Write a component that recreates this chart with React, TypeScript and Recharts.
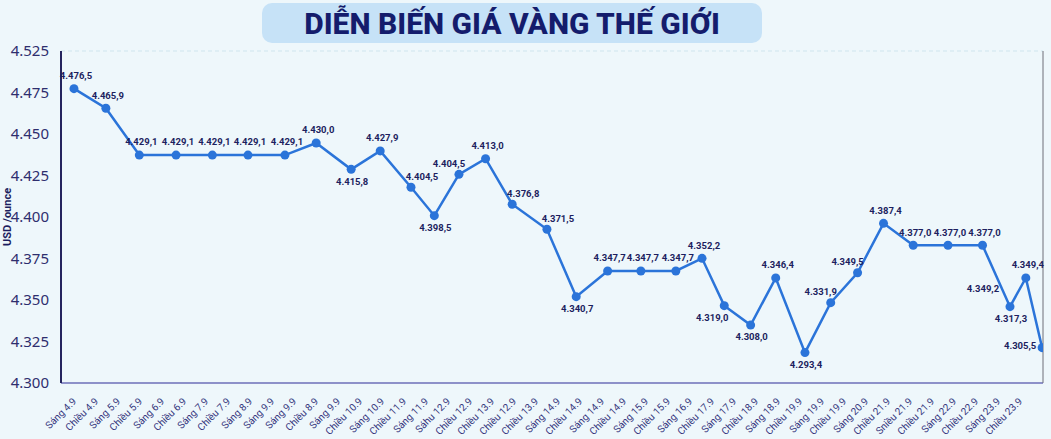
import React from 'react';
import { LineChart, Line, XAxis, YAxis, CartesianGrid, LabelList } from 'recharts';

// 44 time slots printed under the axis (as they appear in the picture)
const X_LABELS = [
  'Sáng 4.9', 'Chiều 4.9', 'Sáng 5.9', 'Chiều 5.9', 'Sáng 6.9', 'Chiều 6.9', 'Sáng 7.9', 'Chiều 7.9',
  'Sáng 8.9', 'Sáng 9.9', 'Sáng 9.9', 'Chiều 8.9', 'Sáng 9.9', 'Chiều 10.9', 'Sáng 10.9', 'Chiều 11.9',
  'Sáng 11.9', 'Sáhu 12.9', 'Chiều 12.9', 'Chiều 13.9', 'Chiều 12.9', 'Chiều 13.9', 'Sáng 14.9', 'Chiều 14.9',
  'Sáng 14.9', 'Chiều 14.9', 'Sáng 15.9', 'Chiều 15.9', 'Sáng 16.9', 'Chiều 17.9', 'Sáng 17.9', 'Chiều 18.9',
  'Sáng 18.9', 'Chiều 19.9', 'Sáng 19.9', 'Chiều 19.9', 'Sáng 20.9', 'Chiều 21.9', 'Sniều 21.9', 'Chiều 21.9',
  'Sáng 22.9', 'Chiều 22.9', 'Sáng 23.9', 'Chiều 23.9',
];

// where each point sits along the slot axis
const POINT_POS = [
  0, 1.45, 2.97, 4.64, 6.29, 7.91, 9.59, 11.01, 12.6, 13.92, 15.32, 16.38, 17.5, 18.71, 19.92, 21.5, 22.83,
  24.26, 25.77, 27.36, 28.55, 29.56, 30.76, 31.9, 33.23, 34.4, 35.62, 36.8, 38.15, 39.73, 41.3, 42.55, 43.27, 44.01,
];

// plotted price (USD/ounce, thousands)
const POINT_PRICE = [
  4.4773, 4.4655, 4.4373, 4.4373, 4.4373, 4.4373, 4.4373, 4.4446, 4.4287, 4.4398, 4.4179, 4.4008, 4.4257,
  4.4351, 4.4077, 4.3926, 4.352, 4.3675, 4.3675, 4.3675, 4.3751, 4.3466, 4.3349, 4.3633, 4.3183, 4.3484,
  4.3664, 4.3962, 4.383, 4.383, 4.383, 4.346, 4.3633, 4.3213,
];

// printed value labels
const POINT_TEXT = [
  '4.476,5', '4.465,9', '4.429,1', '4.429,1', '4.429,1', '4.429,1', '4.429,1', '4.430,0', '4.415,8',
  '4.427,9', '4.404,5', '4.398,5', '4.404,5', '4.413,0', '4.376,8', '4.371,5', '4.340,7', '4.347,7',
  '4.347,7', '4.347,7', '4.352,2', '4.319,0', '4.308,0', '4.346,4', '4.293,4', '4.331,9', '4.349,5',
  '4.387,4', '4.377,0', '4.377,0', '4.377,0', '4.317,3', '4.349,4', '4.305,5',
];

const EXTRA_LABEL_INDEX = 31;
const EXTRA_LABEL_TEXT = '4.349,2';

const Y_TICKS = [4.3, 4.325, 4.35, 4.375, 4.4, 4.425, 4.45, 4.475, 4.5];
const Y_TICK_LABELS = ['4.300', '4.325', '4.350', '4.375', '4.400', '4.425', '4.450', '4.475', '4.525'];

const data = POINT_POS.map((pos, i) => ({ pos, price: POINT_PRICE[i], text: POINT_TEXT[i] }));

// label side for each point
const LABEL_SIDE = [
  'top', 'top', 'top', 'top', 'top', 'top', 'top', 'top', 'bottom', 'top', 'topRight', 'bottom', 'topLeft',
  'top', 'topRight', 'topRight', 'bottom', 'top', 'top', 'top', 'top', 'bottomLeft', 'bottom', 'top', 'bottom',
  'topLeft', 'topLeft', 'top', 'top', 'top', 'top', 'bottom', 'top', 'left',
];

const SIDE_OFFSET: Record<string, [number, number]> = {
  top: [2, -13],
  bottom: [1, 12],
  topLeft: [-10, -11],
  topRight: [11, -11],
  bottomLeft: [-12, 12],
  left: [-22, -2],
  farTopLeft: [-27, -18],
};

const NAVY = '#1d1f5f';
const BLUE = '#2b74d9';

const labelText = (x: number, y: number, text: string, side: string) => {
  const [dx, dy] = SIDE_OFFSET[side];
  return (
    <text
      x={x + dx}
      y={y + dy}
      dy="0.35em"
      textAnchor="middle"
      fontSize={9.5}
      fontWeight={700}
      fill={NAVY}
      fontFamily="Roboto, sans-serif"
    >
      {text}
    </text>
  );
};

const renderValueLabel = (props: any) => {
  const { x, y, index, value } = props;
  return labelText(Number(x), Number(y), String(value), LABEL_SIDE[index] || 'top');
};

const renderExtraLabel = (props: any) => {
  const { x, y, index } = props;
  if (index !== EXTRA_LABEL_INDEX) return null;
  return labelText(Number(x), Number(y), EXTRA_LABEL_TEXT, 'farTopLeft');
};

const XTick = (props: any) => {
  const { x, y, payload } = props;
  return (
    <g transform={`translate(${x + 3},${y + 11}) rotate(-45)`}>
      <text textAnchor="end" fontSize={10} fill="#34357c" fontFamily="Roboto, sans-serif">
        {X_LABELS[payload.value]}
      </text>
    </g>
  );
};

const YTitle = (props: any) => {
  const { viewBox } = props;
  const cy = viewBox.y + viewBox.height / 2;
  return (
    <text
      x={7}
      y={cy}
      transform={`rotate(-90 7 ${cy})`}
      textAnchor="middle"
      dominantBaseline="central"
      fontSize={11}
      fontWeight={700}
      fill={NAVY}
      fontFamily="Roboto, sans-serif"
    >
      USD /ounce
    </text>
  );
};

const App: React.FC = () => {
  return (
    <div
      style={{
        position: 'absolute',
        left: 0,
        top: 0,
        width: 1051,
        height: 439,
        background: '#eef7fb',
        fontFamily: 'Roboto, sans-serif',
      }}
    >
      <div
        style={{
          position: 'absolute',
          left: 262,
          top: 3,
          width: 500,
          height: 40,
          borderRadius: 10,
          background: '#c6e2f7',
          color: '#141c6c',
          fontSize: 30,
          fontWeight: 800,
          lineHeight: '42px',
          textAlign: 'center',
        }}
      >
        DIỄN BIẾN GIÁ VÀNG THẾ GIỚI
      </div>
      <div style={{ position: 'absolute', left: 0, top: 0 }}>
        <LineChart width={1051} height={439} data={data} margin={{ top: 51, right: 7, bottom: 0, left: 0 }}>
          <CartesianGrid vertical={false} stroke="#cfe5ee" strokeDasharray="4 3" />
          <XAxis
            dataKey="pos"
            type="number"
            domain={[-0.59, 44.05]}
            ticks={X_LABELS.map((_, i) => i)}
            interval={0}
            allowDataOverflow
            height={56}
            tickLine={false}
            axisLine={{ stroke: '#8d91c9', strokeWidth: 2 }}
            tick={<XTick />}
          />
          <YAxis
            yAxisId="left"
            domain={[4.3, 4.5]}
            ticks={Y_TICKS}
            interval={0}
            width={61}
            tickLine={false}
            tickMargin={6}
            axisLine={{ stroke: '#24245e', strokeWidth: 2 }}
            tick={{ fontSize: 15, fill: '#2e2e6e', fontFamily: '"Noto Sans", sans-serif' }}
            tickFormatter={(_v: number, i: number) => Y_TICK_LABELS[i]}
            label={<YTitle />}
          />
          <YAxis
            yAxisId="right"
            orientation="right"
            domain={[4.3, 4.5]}
            width={1}
            tick={false}
            tickLine={false}
            axisLine={{ stroke: '#6f6f78', strokeWidth: 1 }}
          />
          <Line
            yAxisId="left"
            type="linear"
            dataKey="price"
            stroke={BLUE}
            strokeWidth={2.5}
            dot={{ r: 4.5, fill: BLUE, stroke: BLUE, strokeWidth: 0 }}
            activeDot={false}
            isAnimationActive={false}
          >
            <LabelList dataKey="text" content={renderValueLabel} />
            <LabelList dataKey="text" content={renderExtraLabel} />
          </Line>
        </LineChart>
      </div>
    </div>
  );
};

export default App;
